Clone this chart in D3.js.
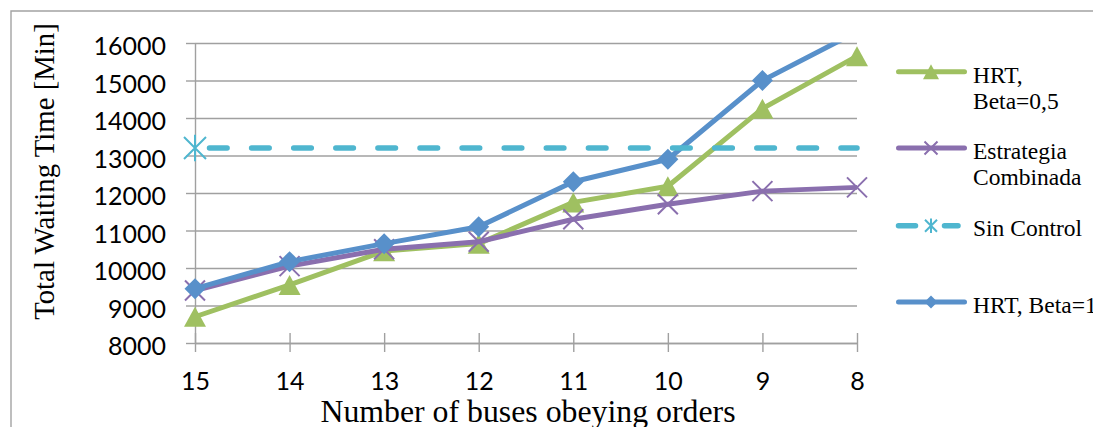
<!DOCTYPE html>
<html>
<head>
<meta charset="utf-8">
<script src="https://cdn.jsdelivr.net/npm/d3@7/dist/d3.min.js"></script>
<style>
  html, body { margin: 0; padding: 0; background: #fff; }
  svg { display: block; }
</style>
</head>
<body>
<svg id="chart" width="1093" height="427"></svg>
<script>
// Number of buses obeying orders (categories, left to right)
const categories = ["15", "14", "13", "12", "11", "10", "9", "8"];

// Total waiting time [min] per strategy
const hrtBeta05   = [8700, 9550, 10450, 10650, 11750, 12180, 14250, 15650];
const combinada   = [9400, 10050, 10500, 10700, 11300, 11700, 12050, 12150];
const sinControl  = [13200, 13200, 13200, 13200, 13200, 13200, 13200, 13200];
const hrtBeta1    = [9450, 10170, 10650, 11100, 12300, 12900, 15000, 16300];

const yTicks = [8000, 9000, 10000, 11000, 12000, 13000, 14000, 15000, 16000];

const seriesNames = ["HRT,\nBeta=0,5", "Estrategia\nCombinada", "Sin Control", "HRT, Beta=1"];

const colors = {
  green: "#9fc061",
  purple: "#8a6fae",
  aqua: "#4fb6cf",
  blue: "#5890ca"
};

const svg = d3.select("#chart");
const plot = { left: 195, right: 857, top: 43, bottom: 343 };

const x = d3.scalePoint().domain(categories).range([plot.left, plot.right]);
const y = d3.scaleLinear().domain([8000, 16000]).range([plot.bottom, plot.top]);

// outer chart frame (partly cut by the page edge)
svg.append("path")
  .attr("d", "M11,427 V11 H1093")
  .attr("fill", "none")
  .attr("stroke", "#a3a3a3")
  .attr("stroke-width", 1.4);

// horizontal gridlines
svg.append("g")
  .attr("transform", `translate(${plot.left},0)`)
  .call(d3.axisLeft(y).tickValues(yTicks).tickSize(-(plot.right - plot.left)).tickFormat(""))
  .call(g => g.select(".domain").remove())
  .call(g => g.selectAll(".tick line").attr("stroke", "#a0a0a0").attr("stroke-width", 1.4));

// y axis with outward ticks and labels
const yAxis = svg.append("g")
  .attr("transform", `translate(${plot.left},0)`)
  .call(d3.axisLeft(y).tickValues(yTicks).tickSize(9).tickSizeOuter(0).tickPadding(20).tickFormat(d3.format("d")));
yAxis.select(".domain").attr("stroke", "#a0a0a0").attr("stroke-width", 1.4);
yAxis.selectAll(".tick line").attr("stroke", "#a0a0a0").attr("stroke-width", 1.4);
yAxis.selectAll(".tick text")
  .attr("dy", "0.47em")
  .attr("fill", "#000")
  .style("font-family", "Lato, 'Open Sans', sans-serif")
  .style("font-size", "25px");

// x axis with crossing ticks
const xAxis = svg.append("g")
  .attr("transform", `translate(0,${plot.bottom})`)
  .call(d3.axisBottom(x).tickSize(9).tickSizeOuter(0));
xAxis.select(".domain").attr("stroke", "#a0a0a0").attr("stroke-width", 1.4);
xAxis.selectAll(".tick line").attr("y1", -10).attr("y2", 9).attr("stroke", "#a0a0a0").attr("stroke-width", 1.4);
xAxis.selectAll(".tick text")
  .attr("y", 47).attr("dy", 0)
  .attr("fill", "#000")
  .style("font-family", "Lato, 'Open Sans', sans-serif")
  .style("font-size", "25px");

// axis titles
svg.append("text")
  .attr("transform", "translate(54,171.5) rotate(-90)")
  .attr("text-anchor", "middle")
  .style("font-family", "'Liberation Serif', 'Times New Roman', serif")
  .style("font-size", "28.8px")
  .attr("fill", "#000")
  .text("Total Waiting Time [Min]");

svg.append("text")
  .attr("x", (plot.left + plot.right) / 2 + 2)
  .attr("y", 422)
  .attr("text-anchor", "middle")
  .style("font-family", "'Liberation Serif', 'Times New Roman', serif")
  .style("font-size", "31.8px")
  .attr("fill", "#000")
  .text("Number of buses obeying orders");

// clip marks to the plot's value range
svg.append("clipPath").attr("id", "plotClip")
  .append("rect").attr("x", 0).attr("y", plot.top - 0.5).attr("width", 1093).attr("height", 427);

const marks = svg.append("g").attr("clip-path", "url(#plotClip)");

const line = d3.line().x((d, i) => x(categories[i])).y(d => y(d));

// marker shapes
function triangle(g, cx, cy, w, h, color) {
  g.append("path")
    .attr("d", `M${cx},${cy - h / 2} L${cx + w / 2},${cy + h / 2} L${cx - w / 2},${cy + h / 2} Z`)
    .attr("fill", color);
}
function diamond(g, cx, cy, r, color) {
  g.append("path")
    .attr("d", `M${cx},${cy - r} L${cx + r},${cy} L${cx},${cy + r} L${cx - r},${cy} Z`)
    .attr("fill", color);
}
function cross(g, cx, cy, r, color, sw) {
  g.append("path")
    .attr("d", `M${cx - r},${cy - r} L${cx + r},${cy + r} M${cx + r},${cy - r} L${cx - r},${cy + r}`)
    .attr("stroke", color).attr("stroke-width", sw).attr("fill", "none");
}
function star(g, cx, cy, r, color, sw) {
  cross(g, cx, cy, r, color, sw);
  g.append("path")
    .attr("d", `M${cx},${cy - r * 1.2} L${cx},${cy + r * 1.2}`)
    .attr("stroke", color).attr("stroke-width", sw).attr("fill", "none");
}

// HRT, Beta=0,5
marks.append("path").datum(hrtBeta05).attr("d", line)
  .attr("fill", "none").attr("stroke", colors.green).attr("stroke-width", 5).attr("stroke-linejoin", "round");
hrtBeta05.forEach((v, i) => triangle(marks, x(categories[i]), y(v), 22, 20, colors.green));

// Estrategia Combinada
marks.append("path").datum(combinada).attr("d", line)
  .attr("fill", "none").attr("stroke", colors.purple).attr("stroke-width", 5).attr("stroke-linejoin", "round");
combinada.forEach((v, i) => cross(marks, x(categories[i]), y(v), 10, colors.purple, 2));

// HRT, Beta=1
marks.append("path").datum(hrtBeta1).attr("d", line)
  .attr("fill", "none").attr("stroke", colors.blue).attr("stroke-width", 5).attr("stroke-linejoin", "round");
hrtBeta1.forEach((v, i) => diamond(marks, x(categories[i]), y(v), 10.5, colors.blue));

// Sin Control (dashed, marker on the first point only)
marks.append("path").datum(sinControl).attr("d", line)
  .attr("fill", "none").attr("stroke", colors.aqua).attr("stroke-width", 5.5)
  .attr("stroke-linecap", "round")
  .attr("stroke-dasharray", "17.6 24.5")
  .attr("stroke-dashoffset", -14.5);
star(marks, x(categories[0]), y(sinControl[0]), 11, colors.aqua, 2);

// legend
const legendFont = "'Liberation Serif', 'Times New Roman', serif";
const legendRows = [
  { lineY: 71.7, textY: 83, color: colors.green, kind: "triangle" },
  { lineY: 148, textY: 159, color: colors.purple, kind: "cross" },
  { lineY: 225.7, textY: 235.7, color: colors.aqua, kind: "star" },
  { lineY: 302, textY: 312.7, color: colors.blue, kind: "diamond" }
];
const legend = svg.append("g");
legendRows.forEach((row, k) => {
  if (row.kind === "star") {
    legend.append("path").attr("d", `M898.5,${row.lineY} H915.5 M944.5,${row.lineY} H958`)
      .attr("stroke", row.color).attr("stroke-width", 5.5).attr("stroke-linecap", "round");
  } else {
    legend.append("line")
      .attr("x1", 898.5).attr("x2", 964.5).attr("y1", row.lineY).attr("y2", row.lineY)
      .attr("stroke", row.color).attr("stroke-width", 5).attr("stroke-linecap", "round");
  }
  if (row.kind === "triangle") triangle(legend, 931, row.lineY, 16, 15, row.color);
  if (row.kind === "cross") cross(legend, 931, row.lineY, 6.5, row.color, 2);
  if (row.kind === "star") star(legend, 931, row.lineY, 6, row.color, 2);
  if (row.kind === "diamond") diamond(legend, 931, row.lineY, 6.5, row.color);

  const t = legend.append("text")
    .attr("x", 973).attr("y", row.textY)
    .style("font-family", legendFont)
    .style("font-size", "23.5px")
    .attr("fill", "#000");
  seriesNames[k].split("\n").forEach((part, j) => {
    t.append("tspan").attr("x", 973).attr("dy", j === 0 ? 0 : 25.5).text(part);
  });
});
</script>
</body>
</html>
